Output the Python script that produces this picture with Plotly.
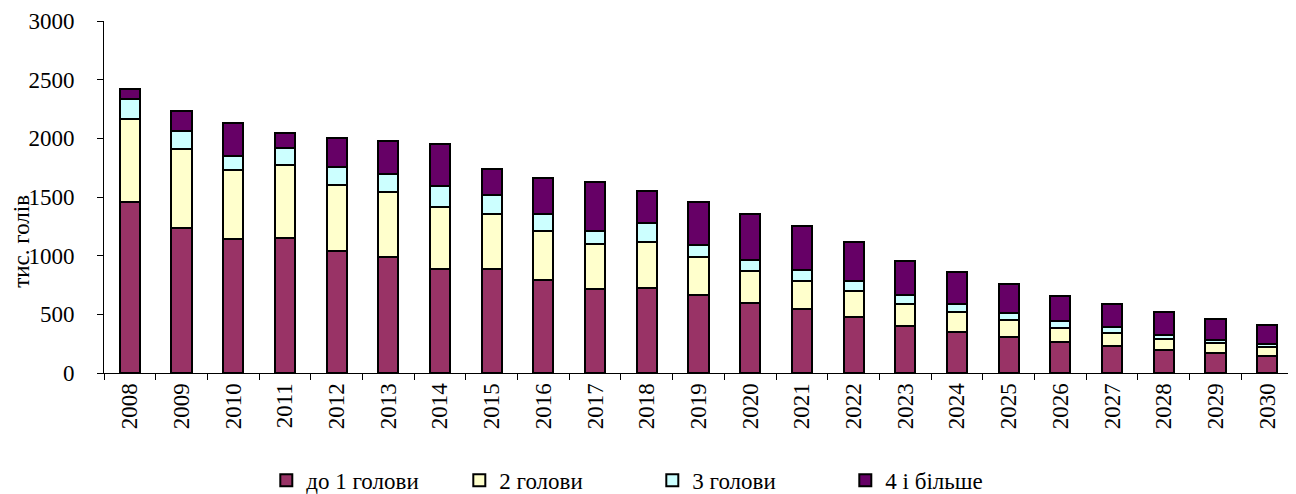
import plotly.graph_objects as go

years = [str(y) for y in range(2008, 2031)]

up_to_1 = [1456, 1234, 1143, 1148, 1041, 992, 890, 890, 796, 717, 725, 662,
           597, 546, 481, 401, 350, 307, 261, 230, 196, 167, 145]
heads_2 = [705, 671, 586, 623, 563, 552, 526, 469, 412, 384, 393, 324,
           273, 242, 219, 184, 167, 145, 126, 108, 94, 86, 77]
heads_3 = [177, 157, 123, 149, 150, 151, 182, 160, 145, 113, 164, 109,
           97, 88, 82, 77, 68, 60, 59, 54, 37, 31, 25]
heads_4 = [79, 174, 281, 124, 245, 284, 350, 216, 308, 412, 271, 361,
           384, 375, 338, 296, 273, 247, 214, 193, 193, 177, 165]

series = [
    ("до 1 голови", up_to_1, "#993366"),
    ("2 голови", heads_2, "#FFFFCC"),
    ("3 голови", heads_3, "#CCFFFF"),
    ("4 і більше", heads_4, "#660066"),
]

font = dict(family="Liberation Serif, Times New Roman, serif", size=23, color="black")

fig = go.Figure()
for name, vals, color in series:
    fig.add_trace(go.Bar(
        x=years, y=vals, name=name,
        marker=dict(color=color, line=dict(color="black", width=2)),
    ))

# page body has an 8px margin, so the figure is a bit smaller than the window
fig.update_layout(
    barmode="stack",
    bargap=0.61,
    width=1288, height=486,
    margin=dict(l=96, r=3, t=13, b=121, autoexpand=False),
    plot_bgcolor="white", paper_bgcolor="white",
    font=font,
    showlegend=True,
    legend=dict(
        orientation="h", traceorder="normal",
        x=0.1365, xanchor="left", y=-0.305, yanchor="middle",
        entrywidth=148, entrywidthmode="pixels",
        itemwidth=30, font=font,
    ),
)

fig.update_xaxes(
    type="category", tickangle=-90, tickson="boundaries",
    ticks="outside", ticklen=6, tickcolor="black",
    showline=True, linecolor="black", linewidth=1,
    showgrid=False, tickfont=font, automargin=False,
)
fig.update_yaxes(
    range=[0, 3000], dtick=500, tickformat="d",
    ticks="outside", ticklen=6, tickcolor="black",
    showline=True, linecolor="black", linewidth=1,
    showgrid=False, zeroline=False, tickfont=font,
    ticklabelstandoff=18, automargin=False,
)

fig.add_annotation(
    text="тис. голів", textangle=-90, showarrow=False,
    xref="paper", yref="paper", x=-0.07, y=0.375,
    xanchor="center", yanchor="middle", font=font,
)

fig.write_html("out.html")
